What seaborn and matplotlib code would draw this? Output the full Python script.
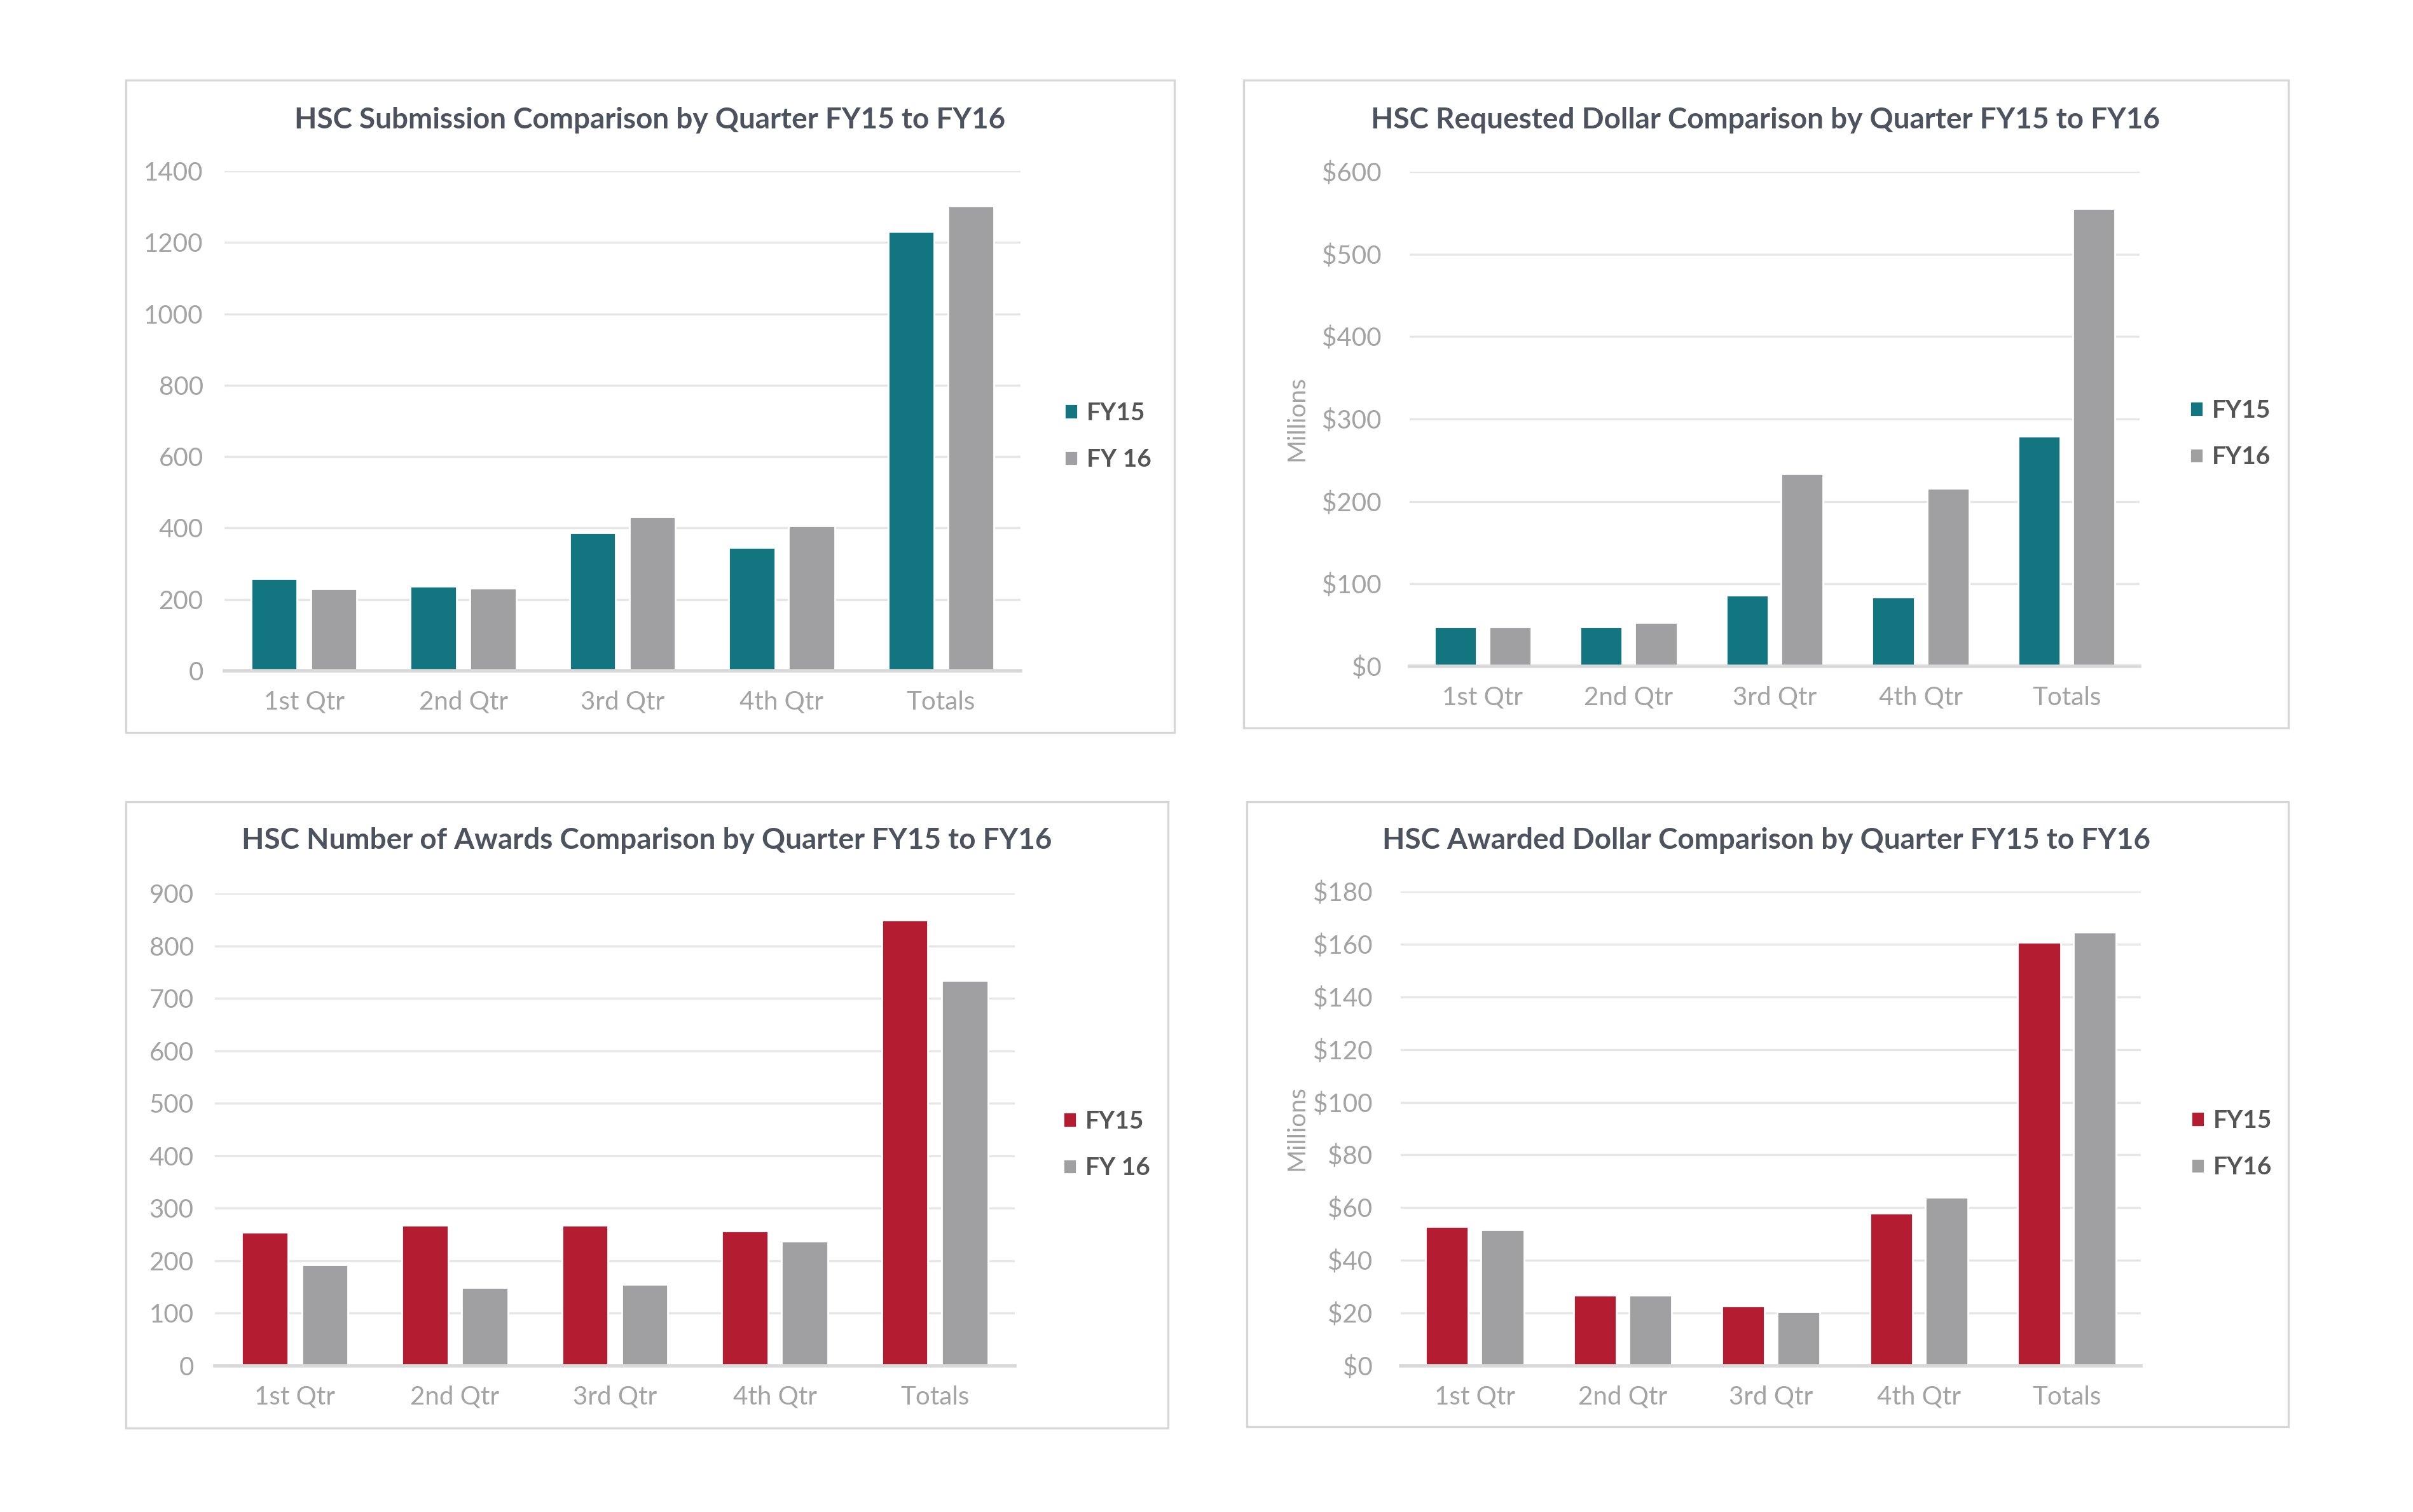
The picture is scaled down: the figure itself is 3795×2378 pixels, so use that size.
import pandas as pd
import seaborn as sns
import matplotlib.pyplot as plt
from matplotlib.patches import Rectangle
from matplotlib.ticker import FuncFormatter

quarters = ["1st Qtr", "2nd Qtr", "3rd Qtr", "4th Qtr", "Totals"]

# HSC submissions (count)
subm_fy15 = [258, 237, 386, 345, 1230]
subm_fy16 = [229, 232, 431, 406, 1302]

# requested dollars (millions)
req_fy15 = [48, 48, 86, 84, 279]
req_fy16 = [48, 53, 234, 216, 555]

# number of awards
awd_fy15 = [254, 268, 268, 257, 849]
awd_fy16 = [192, 149, 155, 237, 734]

# awarded dollars (millions)
awdd_fy15 = [52.9, 26.7, 22.8, 57.8, 160.6]
awdd_fy16 = [51.6, 26.7, 20.6, 63.9, 164.6]

TEAL = "#137580"
RED = "#B41C31"
GRAY = "#A0A0A2"
TITLE_C = "#4D535E"
TICK_C = "#A3A3A3"
FONT = ["Lato", "DejaVu Sans"]

sns.set_theme(style="white")
plt.rcParams["font.family"] = FONT

W, H = 3795, 2378
fig = plt.figure(figsize=(W / 200, H / 200), dpi=200)
fig.patch.set_facecolor("white")


def fx(px):
    return px / W


def fy(py):
    return 1 - py / H


panels = [
    dict(title="HSC Submission Comparison by Quarter FY15 to FY16",
         a=subm_fy15, b=subm_fy16, labels=("FY15", "FY 16"), color=TEAL,
         ymax=1400, step=200, money=False,
         box=(198, 126, 1847, 1152), ax=(353, 269, 1605, 1055),
         title_xy=(1022, 189), leg_xy=(1658, 686)),
    dict(title="HSC Requested Dollar Comparison by Quarter FY15 to FY16",
         a=req_fy15, b=req_fy16, labels=("FY15", "FY16"), color=TEAL,
         ymax=600, step=100, money=True,
         box=(1956, 126, 3599, 1145), ax=(2217, 270, 3365, 1048),
         title_xy=(2776, 189), leg_xy=(3428, 682), millions=(2040, 658)),
    dict(title="HSC Number of Awards Comparison by Quarter FY15 to FY16",
         a=awd_fy15, b=awd_fy16, labels=("FY15", "FY 16"), color=RED,
         ymax=900, step=100, money=False,
         box=(198, 1261, 1837, 2246), ax=(338, 1405, 1596, 2148),
         title_xy=(1017, 1322), leg_xy=(1656, 1800)),
    dict(title="HSC Awarded Dollar Comparison by Quarter FY15 to FY16",
         a=awdd_fy15, b=awdd_fy16, labels=("FY15", "FY16"), color=RED,
         ymax=180, step=20, money=True,
         box=(1961, 1261, 3599, 2244), ax=(2203, 1402, 3367, 2148),
         title_xy=(2778, 1322), leg_xy=(3430, 1799), millions=(2040, 1774)),
]

for p in panels:
    # panel frame
    x0, y0, x1, y1 = p["box"]
    fig.patches.append(Rectangle((fx(x0), fy(y1)), fx(x1 - x0), (y1 - y0) / H,
                                 transform=fig.transFigure, fill=False,
                                 edgecolor="#D6D6D6", linewidth=1.2, zorder=0))

    l, t, r, b = p["ax"]
    ax = fig.add_axes([fx(l), fy(b), fx(r - l), (b - t) / H])

    df = pd.DataFrame({
        "quarter": quarters * 2,
        "value": p["a"] + p["b"],
        "year": [p["labels"][0]] * 5 + [p["labels"][1]] * 5,
    })
    sns.barplot(data=df, x="quarter", y="value", hue="year", ax=ax,
                palette=[p["color"], GRAY], width=0.75, gap=0.23,
                saturation=1, errorbar=None)

    ax.set_ylim(0, p["ymax"])
    ax.set_xlim(-0.5, 4.5)
    ticks = list(range(0, p["ymax"] + 1, p["step"]))
    ax.set_yticks(ticks)
    if p["money"]:
        ax.yaxis.set_major_formatter(FuncFormatter(lambda v, pos: f"${v:.0f}"))
    ax.yaxis.grid(True, color="#E6E6E6", linewidth=1.2)
    ax.set_axisbelow(True)
    for s in ["top", "right", "left"]:
        ax.spines[s].set_visible(False)
    ax.spines["bottom"].set_color("#D9D9D9")
    ax.spines["bottom"].set_linewidth(2)
    ax.tick_params(axis="both", length=0, colors=TICK_C, labelsize=14.5)
    ax.tick_params(axis="y", pad=12 if not p["money"] else 16)
    ax.tick_params(axis="x", pad=11)
    ax.set_xlabel("")
    ax.set_ylabel("")

    fig.text(fx(p["title_xy"][0]), fy(p["title_xy"][1]), p["title"],
             ha="center", va="center", fontsize=16.5, fontweight="bold",
             color=TITLE_C)

    if "millions" in p:
        mx, my = p["millions"]
        fig.text(fx(mx), fy(my), "Millions", rotation=90, ha="center",
                 va="center", fontsize=14, color=TICK_C)

    lx, ly = p["leg_xy"]
    leg = ax.legend(loc="center left", bbox_to_anchor=(fx(lx), fy(ly)),
                    bbox_transform=fig.transFigure, frameon=False,
                    handlelength=0.55, handleheight=0.55, handletextpad=0.35,
                    labelspacing=1.0, prop={"size": 14, "weight": "bold"},
                    borderaxespad=0)
    for txt in leg.get_texts():
        txt.set_color("#555555")

fig.savefig("out.png", dpi=200, facecolor="white")
